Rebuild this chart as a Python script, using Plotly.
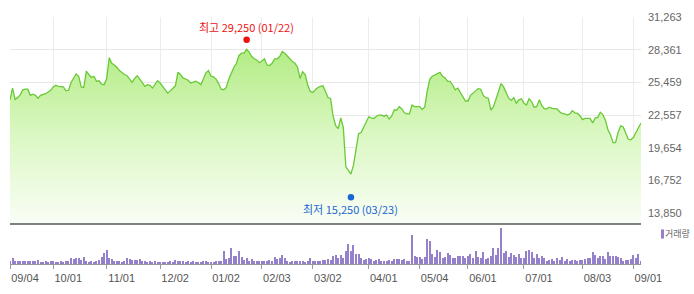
import pandas as pd
import plotly.graph_objects as go

# ---------------- data ----------------
HOLIDAYS = ["2019-09-12", "2019-09-13", "2019-10-03", "2019-10-09", "2019-12-25",
            "2019-12-31", "2020-01-01", "2020-01-24", "2020-01-27", "2020-04-15",
            "2020-04-30", "2020-05-01", "2020-05-05", "2020-08-17"]
DATES = [d for d in pd.bdate_range("2019-09-04", "2020-09-04")
         if d.strftime("%Y-%m-%d") not in HOLIDAYS]

PRICE = [
    23900, 24950, 23950, 24100, 24350, 24800, 24850, 24850, 24300, 24400,
    24300, 24050, 24300, 24350, 24450, 24600, 24750, 25050, 25200, 25100,
    25100, 25050, 24700, 24750, 25450, 25850, 26200, 26000, 25050, 25000,
    26450, 26150, 25900, 26000, 25550, 25600, 25300, 25250, 25800, 27650,
    27150, 27000, 26800, 26500, 26300, 26150, 26050, 25750, 25450, 25800,
    26050, 25750, 25400, 25100, 25250, 25200, 24950, 25250, 25600, 25400,
    25100, 24750, 24500, 24700, 24900, 25150, 26350, 26150, 25850, 25750,
    25650, 25400, 25500, 25550, 25450, 25250, 25750, 26300, 26500, 26000,
    25950, 25750, 25350, 24850, 24800, 25000, 25750, 26350, 26800, 27150,
    27850, 28050, 28050, 28400, 28150, 27750, 27550, 27450, 27200, 27350,
    27550, 27000, 26950, 27150, 27550, 27550, 27750, 28200, 28050, 27800,
    27500, 27300, 27150, 26800, 25800, 26400, 26150, 25250, 24650, 24550,
    24800, 25000, 25100, 25150, 24650, 24100, 24000, 22450, 21600, 21350,
    22300, 21450, 17950, 17650, 17300, 18100, 19400, 20900, 21000, 21450,
    22000, 22400, 22300, 22250, 22450, 22550, 22550, 22450, 22550, 22200,
    22450, 23000, 23000, 23300, 23100, 22750, 22650, 22650, 23450, 23300,
    23300, 23300, 23050, 23250, 24700, 25750, 26000, 26100, 26250, 26350,
    26000, 25850, 25550, 25550, 25200, 24800, 24950, 24550, 24100, 23800,
    23800, 24300, 24500, 24700, 24900, 24850, 24300, 24100, 24050, 23000,
    23300, 23950, 24750, 25350, 25050, 24550, 24050, 23850, 24100, 23600,
    23900, 24000, 23600, 23450, 24000, 23750, 23250, 23300, 23900, 23400,
    23100, 23100, 23250, 23150, 23150, 23100, 22850, 22700, 22650, 22550,
    22650, 22950, 22750, 22700, 22500, 22150, 22250, 22250, 22250, 21850,
    22300, 22350, 22800, 22600, 22100, 21250, 20800, 20100, 20100, 21000,
    21600, 21500, 20850, 20400, 20350, 20550, 21000, 21500, 21850,
]

# volume (10k shares)
VOLUME = [
    10, 18, 10, 8, 9, 9, 9, 9, 10, 10, 10, 13, 7, 6, 8, 7, 8, 8, 7, 6,
    8, 7, 8, 10, 20, 16, 20, 20, 11, 23, 8, 6, 8, 7, 10, 13, 23, 33, 44, 20,
    16, 10, 8, 8, 7, 8, 18, 16, 13, 12, 12, 15, 8, 9, 5, 8, 7, 9, 6, 6,
    6, 7, 7, 8, 7, 12, 9, 8, 8, 7, 8, 7, 8, 7, 7, 7, 8, 10, 7, 6,
    7, 8, 10, 10, 40, 16, 20, 48, 25, 25, 41, 22, 13, 18, 10, 15, 8, 10, 8, 8,
    10, 8, 13, 8, 23, 15, 20, 27, 20, 8, 7, 8, 8, 9, 10, 8, 7, 10, 18, 8,
    10, 10, 10, 12, 12, 16, 12, 26, 28, 20, 28, 18,
    40, 60, 40, 58, 30, 30, 20, 12, 16, 18, 16, 10, 12, 16, 10, 10, 10, 12,
    10, 16, 14, 16, 12, 16, 10, 8, 88, 24, 23, 22, 16, 23, 76, 70, 30, 23,
    43, 36, 20, 23, 33, 28, 18, 20, 24, 24, 24, 20, 26, 30, 20, 40, 23, 18,
    38, 14, 18, 26, 48, 28, 48, 110, 33, 40, 23, 33, 28, 23, 30, 20, 18, 40,
    43, 36, 18, 30, 20, 26, 20, 10, 12, 14, 10, 20, 12, 23, 10, 14, 8, 13,
    12, 8, 13, 12, 14, 20, 18, 38, 28, 20, 26, 24, 14, 36, 26, 24, 24, 22,
    18, 10, 12, 12, 16, 28, 20, 30, 8,
]

Y_TICKS = [13850, 16752, 19654, 22557, 25459, 28361, 31263]
Y_RANGE = [12979, 31263]

HIGH_VALUE, HIGH_DATE = 29250, "2020-01-22"
LOW_VALUE, LOW_DATE = 15250, "2020-03-23"

# ---------------- derived ----------------
n = min(len(DATES), len(PRICE), len(VOLUME))
DATES, PRICE, VOLUME = DATES[:n], PRICE[:n], VOLUME[:n]
X = list(range(n))
date_str = [d.strftime("%Y-%m-%d") for d in DATES]

tick_idx, prev = [], None
for i, d in enumerate(DATES):
    key = (d.year, d.month)
    if key != prev:
        tick_idx.append(i)
        prev = key
tick_text = [DATES[i].strftime("%m/%d") for i in tick_idx]

hi_i = date_str.index(HIGH_DATE)
lo_i = date_str.index(LOW_DATE)

LINE_GREEN = "#69c936"
PURPLE = "#9580cc"
RED = "#ee1111"
BLUE = "#1a66d2"

fig = go.Figure()
fig.add_trace(go.Scatter(
    x=X, y=PRICE, mode="lines",
    line=dict(color=LINE_GREEN, width=1.3),
    fill="tozeroy",
    fillgradient=dict(type="vertical",
                      colorscale=[[0, "#fbfef8"], [0.5, "#dcf8c5"], [1, "#b3ec85"]],
                      start=Y_RANGE[0], stop=max(PRICE)),
    hoverinfo="skip",
))
fig.add_trace(go.Scatter(x=[hi_i], y=[HIGH_VALUE], mode="markers",
                         marker=dict(color=RED, size=6.5), hoverinfo="skip"))
fig.add_trace(go.Scatter(x=[lo_i], y=[LOW_VALUE], mode="markers",
                         marker=dict(color=BLUE, size=6.5), hoverinfo="skip"))
fig.add_trace(go.Bar(x=X, y=VOLUME, xaxis="x2", yaxis="y2",
                     marker=dict(color=PURPLE, line=dict(width=0)),
                     width=0.42, hoverinfo="skip"))

fig.add_annotation(x=hi_i, y=HIGH_VALUE, yshift=13, showarrow=False,
                   text=f"최고 {HIGH_VALUE:,} ({DATES[hi_i].strftime('%m/%d')})",
                   font=dict(family="Noto Sans CJK KR", size=11, color=RED))
fig.add_annotation(x=lo_i, y=LOW_VALUE, yshift=-12, showarrow=False,
                   text=f"최저 {LOW_VALUE:,} ({DATES[lo_i].strftime('%m/%d')})",
                   font=dict(family="Noto Sans CJK KR", size=11, color=BLUE))

# volume legend
fig.add_shape(type="rect", xref="paper", yref="paper",
              x0=1.0317, x1=1.0365, y0=0.103, y1=0.140,
              fillcolor=PURPLE, line=dict(width=0))
fig.add_annotation(xref="paper", yref="paper", x=1.0792, y=0.122,
                   xanchor="right", yanchor="middle", showarrow=False,
                   text="거래량", borderpad=0,
                   font=dict(family="Noto Sans CJK KR", size=9, color="#666666"))

fig.update_layout(
    width=694, height=294,
    margin=dict(l=10, r=53, t=17, b=25),
    paper_bgcolor="white", plot_bgcolor="white",
    showlegend=False, bargap=0,
    xaxis=dict(domain=[0, 1], anchor="y", range=[0, n - 1],
               tickvals=tick_idx, showticklabels=False, ticks="",
               showgrid=True, gridcolor="#ececec", gridwidth=1,
               showline=True, linecolor="#808080", linewidth=2,
               zeroline=False, fixedrange=True),
    yaxis=dict(domain=[0.1667, 1], range=Y_RANGE, side="right",
               tickvals=Y_TICKS, ticktext=[f"{v:,}" for v in Y_TICKS],
               tickfont=dict(family="Arial", size=11, color="#666666"),
               showgrid=True, gridcolor="#e8e8e8", gridwidth=1,
               zeroline=False, showline=False, ticks="",
               ticklabelstandoff=6, fixedrange=True),
    xaxis2=dict(domain=[0, 1], anchor="y2", range=[0, n - 1],
                tickvals=tick_idx, ticktext=tick_text,
                ticks="outside", ticklen=4, tickcolor="#999999",
                showline=True, linecolor="#999999", linewidth=1,
                showgrid=False, zeroline=False,
                tickfont=dict(family="Arial", size=11, color="#555555"),
                ticklabelshift=15, fixedrange=True),
    yaxis2=dict(domain=[0, 0.15], range=[0, max(VOLUME) * 1.03],
                visible=False, fixedrange=True),
)

fig.write_html("out.html")
